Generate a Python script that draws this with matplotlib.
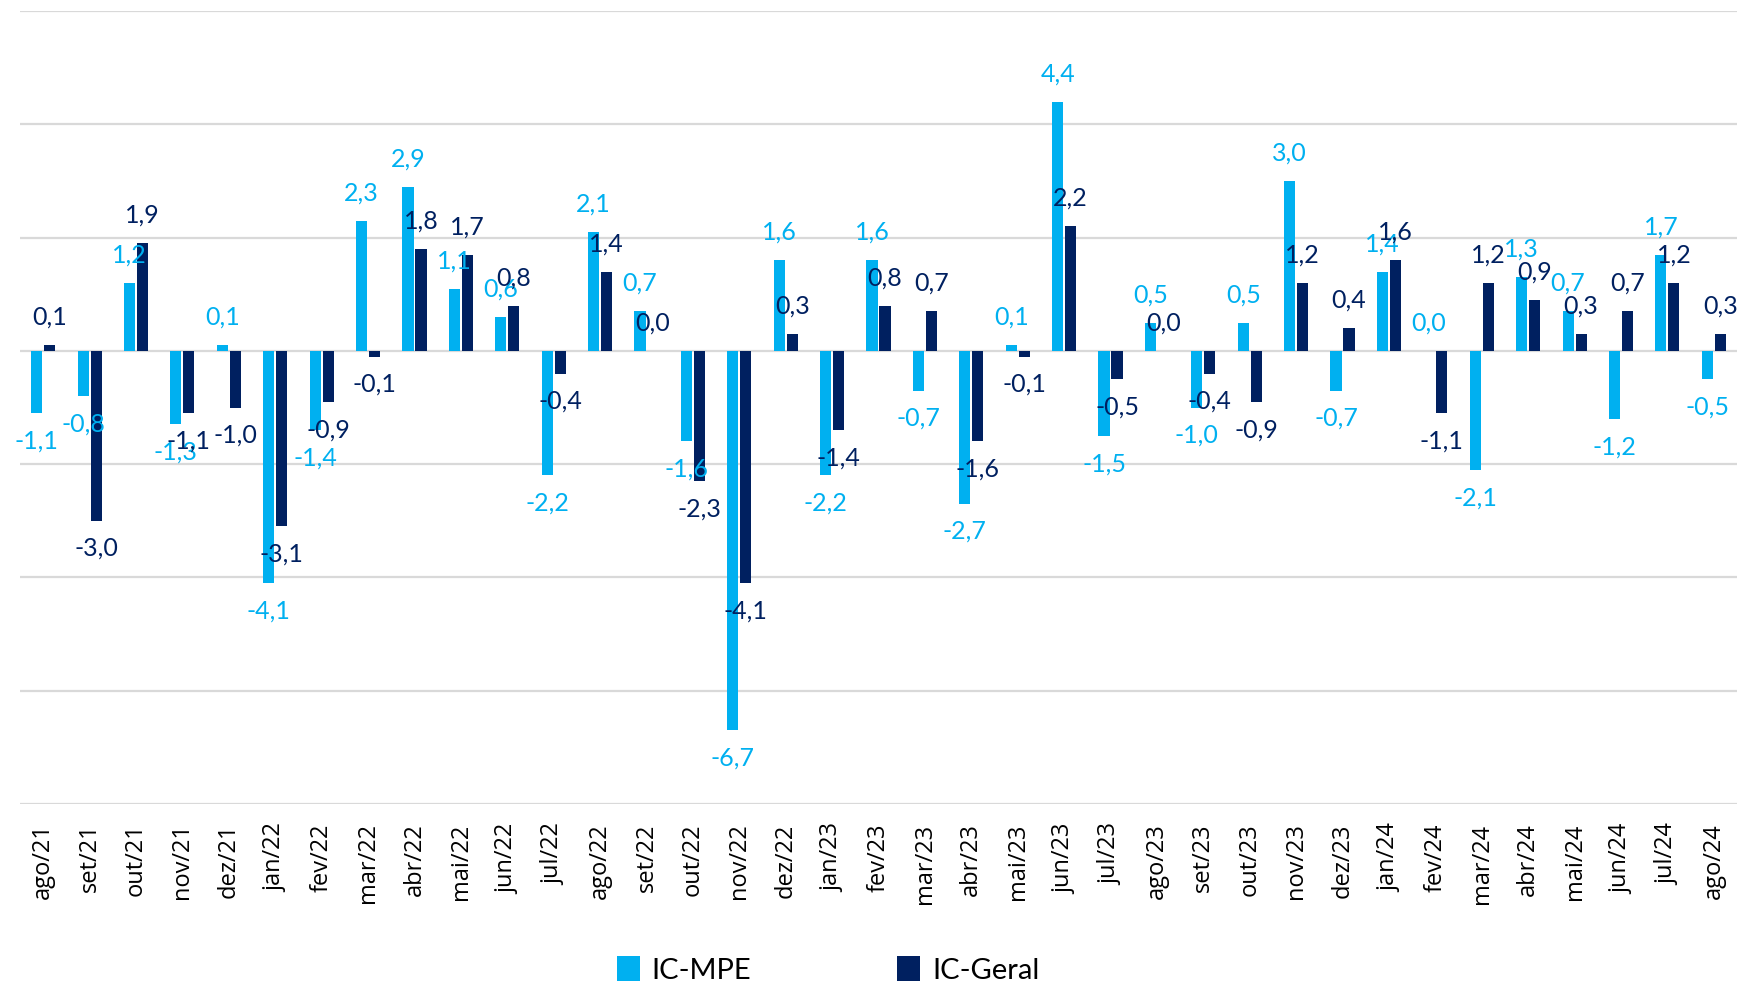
import numpy as np
import matplotlib
matplotlib.use("Agg")
import matplotlib.pyplot as plt

# Meses (ago/21 a ago/24)
meses = ["ago/21", "set/21", "out/21", "nov/21", "dez/21",
         "jan/22", "fev/22", "mar/22", "abr/22", "mai/22", "jun/22", "jul/22",
         "ago/22", "set/22", "out/22", "nov/22", "dez/22",
         "jan/23", "fev/23", "mar/23", "abr/23", "mai/23", "jun/23", "jul/23",
         "ago/23", "set/23", "out/23", "nov/23", "dez/23",
         "jan/24", "fev/24", "mar/24", "abr/24", "mai/24", "jun/24", "jul/24",
         "ago/24"]

# Variacao mensal (%)
ic_mpe = [-1.1, -0.8, 1.2, -1.3, 0.1,
          -4.1, -1.4, 2.3, 2.9, 1.1, 0.6, -2.2,
          2.1, 0.7, -1.6, -6.7, 1.6,
          -2.2, 1.6, -0.7, -2.7, 0.1, 4.4, -1.5,
          0.5, -1.0, 0.5, 3.0, -0.7,
          1.4, 0.0, -2.1, 1.3, 0.7, -1.2, 1.7,
          -0.5]
ic_geral = [0.1, -3.0, 1.9, -1.1, -1.0,
            -3.1, -0.9, -0.1, 1.8, 1.7, 0.8, -0.4,
            1.4, 0.0, -2.3, -4.1, 0.3,
            -1.4, 0.8, 0.7, -1.6, -0.1, 2.2, -0.5,
            0.0, -0.4, -0.9, 1.2, 0.4,
            1.6, -1.1, 1.2, 0.9, 0.3, 0.7, 1.2,
            0.3]

cor_mpe = "#00B0F0"
cor_geral = "#002060"

fig = plt.figure(figsize=(17.39, 9.86), dpi=100)
ax = fig.add_axes([20/1739, 1-804/986, 1717/1739, 793/986])

x = np.arange(len(meses))
larg = 0.24
ax.bar(x - 0.14, ic_mpe, larg, color=cor_mpe, label="IC-MPE", zorder=3)
ax.bar(x + 0.14, ic_geral, larg, color=cor_geral, label="IC-Geral", zorder=3)


def rotulos(xs, vals, cor):
    for xi, v in zip(xs, vals):
        dy = 20 if v >= 0 else -20
        ax.annotate(f"{v:.1f}".replace(".", ","), (xi, v), xytext=(0, dy),
                    textcoords="offset points", ha="center", va="center",
                    color=cor, fontsize=18, family="Lato", zorder=4)


rotulos(x - 0.14, ic_mpe, cor_mpe)
rotulos(x + 0.14, ic_geral, cor_geral)

ax.set_xlim(-0.5, len(meses) - 0.5)
ax.set_ylim(-8, 6)
ax.set_yticks(np.arange(-8, 7, 2))
ax.set_yticklabels([])
ax.tick_params(axis="y", length=0)
ax.grid(axis="y", color="#D9D9D9", linewidth=1.6, zorder=0)

ax.set_xticks(x)
ax.set_xticklabels(meses, rotation=90, fontsize=17, family="Open Sans")
ax.tick_params(axis="x", length=0, pad=14)

for s in ax.spines.values():
    s.set_visible(False)

fig.legend(loc="center", bbox_to_anchor=(828/1739, 1-970/986), ncol=2,
           frameon=False, prop={"family": "Lato", "size": 21},
           handlelength=0.8, handleheight=0.9, columnspacing=5, handletextpad=0.4)

fig.savefig("out.png", dpi=100)
